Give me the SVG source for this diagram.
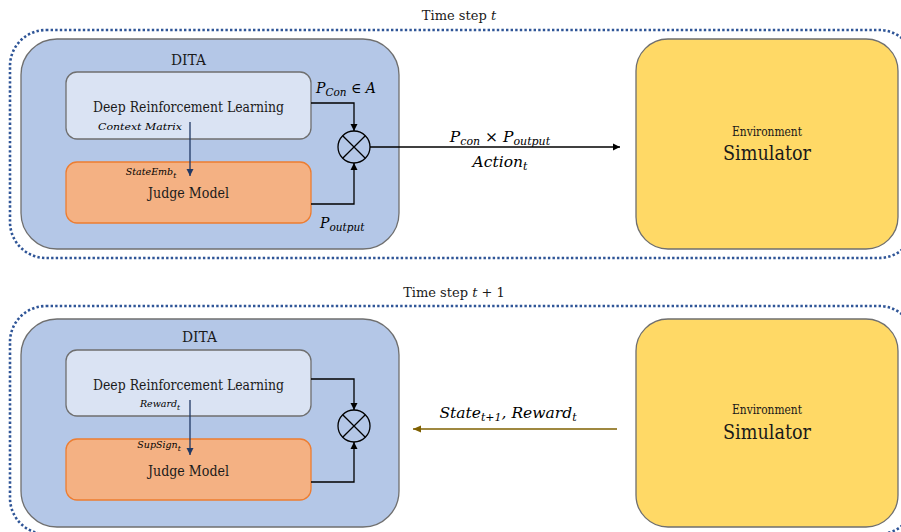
<svg xmlns="http://www.w3.org/2000/svg" width="901" height="532" viewBox="0 0 901 532">
<defs>
<style>
.outer{fill:none;stroke:#2F5597;stroke-width:2.6;stroke-dasharray:2.4 2.2}
.dita{fill:#B4C7E7;stroke:#6F6F6F;stroke-width:1.3}
.drl{fill:#DAE3F3;stroke:#6F6F6F;stroke-width:1.3}
.judge{fill:#F4B183;stroke:#ED7D31;stroke-width:1.3}
.env{fill:#FFD966;stroke:#6F6F6F;stroke-width:1.3}
.s{font-family:'DejaVu Serif',serif;fill:#1a1a1a}
.m{font-family:'DejaVu Serif',serif;font-style:italic;fill:#000}
.ln{fill:none;stroke:#000;stroke-width:1.3}
.nv{fill:none;stroke:#203864;stroke-width:1.3}
.br{fill:none;stroke:#7F6000;stroke-width:1.3}
</style>
<marker id="ak" markerWidth="8" markerHeight="8" refX="7" refY="4" orient="auto" markerUnits="userSpaceOnUse"><path d="M0,0.5 L7,4 L0,7.5 z" fill="#000"/></marker>
<marker id="an" markerWidth="8" markerHeight="8" refX="7" refY="4" orient="auto" markerUnits="userSpaceOnUse"><path d="M0,0.5 L7,4 L0,7.5 z" fill="#203864"/></marker>
<marker id="ab" markerWidth="10" markerHeight="8" refX="8" refY="4" orient="auto" markerUnits="userSpaceOnUse"><path d="M0,0.5 L8,4 L0,7.5 z" fill="#7F6000"/></marker>
</defs>
<rect width="901" height="532" fill="#fff"/>

<!-- top panel -->
<g id="frame-top">
<rect class="outer" x="10" y="30" width="905" height="228" rx="36"/>
<text class="s" x="459" y="20" font-size="13" text-anchor="middle">Time step <tspan font-style="italic">t</tspan></text>
</g>
<g id="dita-top">
<rect class="dita" x="21" y="39" width="378" height="210" rx="36"/>
<text class="s" x="171" y="65" font-size="14" textLength="35" lengthAdjust="spacingAndGlyphs">DITA</text>
</g>
<g id="drl-top">
<rect class="drl" x="66" y="72" width="245" height="67" rx="11"/>
<text class="s" x="93" y="112" font-size="15" textLength="191" lengthAdjust="spacingAndGlyphs">Deep Reinforcement Learning</text>
<text class="m" x="98" y="130" font-size="9.5" textLength="84" lengthAdjust="spacingAndGlyphs">Context Matrix</text>
</g>
<g id="judge-top">
<rect class="judge" x="66" y="162" width="245" height="61" rx="11"/>
<text class="m" x="151" y="175" font-size="9.5" text-anchor="middle">StateEmb<tspan font-size="7.5" dy="2.5">t</tspan></text>
<text class="s" x="148" y="198" font-size="15" textLength="81" lengthAdjust="spacingAndGlyphs">Judge Model</text>
</g>
<g id="mult-top">
<circle cx="354" cy="147" r="16" fill="none" stroke="#000" stroke-width="1.3"/>
<path d="M342.7,135.7 L365.3,158.3 M365.3,135.7 L342.7,158.3" stroke="#000" stroke-width="1.3"/>
</g>
<g id="env-top">
<rect class="env" x="636" y="39" width="262" height="210" rx="32"/>
<text class="s" x="732" y="136" font-size="12.5" textLength="70" lengthAdjust="spacingAndGlyphs">Environment</text>
<text class="s" x="723" y="160" font-size="21" textLength="88" lengthAdjust="spacingAndGlyphs">Simulator</text>
</g>

<!-- bottom panel -->
<g id="frame-bottom">
<rect class="outer" x="10" y="306" width="905" height="228" rx="36"/>
<text class="s" x="454" y="297" font-size="13" text-anchor="middle">Time step <tspan font-style="italic">t</tspan> + 1</text>
</g>
<g id="dita-bottom">
<rect class="dita" x="21" y="319" width="378" height="208" rx="36"/>
<text class="s" x="182" y="342" font-size="14" textLength="35" lengthAdjust="spacingAndGlyphs">DITA</text>
</g>
<g id="drl-bottom">
<rect class="drl" x="66" y="350" width="245" height="66" rx="11"/>
<text class="s" x="93" y="390" font-size="15" textLength="191" lengthAdjust="spacingAndGlyphs">Deep Reinforcement Learning</text>
<text class="m" x="160" y="407" font-size="9.5" text-anchor="middle">Reward<tspan font-size="7.5" dy="2.5">t</tspan></text>
</g>
<g id="judge-bottom">
<rect class="judge" x="66" y="439" width="245" height="61" rx="11"/>
<text class="m" x="159" y="448" font-size="9.5" text-anchor="middle">SupSign<tspan font-size="7.5" dy="2.5">t</tspan></text>
<text class="s" x="148" y="476" font-size="15" textLength="81" lengthAdjust="spacingAndGlyphs">Judge Model</text>
</g>
<g id="mult-bottom">
<circle cx="354" cy="426" r="16" fill="none" stroke="#000" stroke-width="1.3"/>
<path d="M342.7,414.7 L365.3,437.3 M365.3,414.7 L342.7,437.3" stroke="#000" stroke-width="1.3"/>
</g>
<g id="env-bottom">
<rect class="env" x="636" y="319" width="262" height="208" rx="32"/>
<text class="s" x="732" y="414" font-size="12.5" textLength="70" lengthAdjust="spacingAndGlyphs">Environment</text>
<text class="s" x="723" y="439" font-size="21" textLength="88" lengthAdjust="spacingAndGlyphs">Simulator</text>
</g>

<g id="connectors">
<path class="nv" d="M190,122 L190,176" marker-end="url(#an)"/>
<path class="ln" d="M311,103 L354,103 L354,131" marker-end="url(#ak)"/>
<path class="ln" d="M311,204 L354,204 L354,163" marker-end="url(#ak)"/>
<path class="ln" d="M370,147 L620,147" marker-end="url(#ak)"/>
<text class="m" x="316" y="93" font-size="14">P<tspan font-size="10.5" dy="3">Con</tspan><tspan dy="-3"> ∈ A</tspan></text>
<text class="m" x="320" y="228" font-size="14">P<tspan font-size="10.5" dy="3">output</tspan></text>
<text class="m" x="500" y="142" font-size="15.5" text-anchor="middle">P<tspan font-size="11" dy="3">con</tspan><tspan dy="-3"> × P</tspan><tspan font-size="11" dy="3">output</tspan></text>
<text class="m" x="500" y="167" font-size="15.5" text-anchor="middle">Action<tspan font-size="11" dy="3">t</tspan></text>

<path class="nv" d="M190,400 L190,455" marker-end="url(#an)"/>
<path class="ln" d="M311,379 L354,379 L354,410" marker-end="url(#ak)"/>
<path class="ln" d="M311,482 L354,482 L354,442" marker-end="url(#ak)"/>
<path class="br" d="M617,429 L413,429" marker-end="url(#ab)"/>
<text class="m" x="508" y="418" font-size="15.5" text-anchor="middle">State<tspan font-size="11" dy="3">t+1</tspan><tspan dy="-3">, Reward</tspan><tspan font-size="11" dy="3">t</tspan></text>
</g>
</svg>
